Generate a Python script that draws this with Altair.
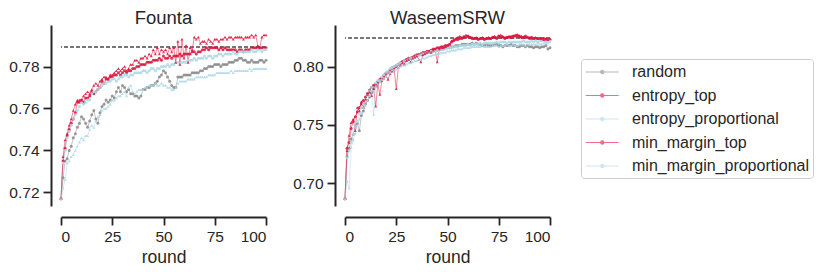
import altair as alt
import pandas as pd

rounds = list(range(101))
strategies = ["random", "entropy_top", "entropy_proportional", "min_margin_top", "min_margin_proportional"]
colors = ["#8a8a8a", "#dc143c", "#add8e6", "#dc143c", "#add8e6"]
circle_strategies = ["random", "entropy_top", "entropy_proportional"]
triangle_strategies = ["min_margin_top", "min_margin_proportional"]
datasets = ["Founta", "WaseemSRW"]
full_data = [0.7895, 0.8240]

# ---------------- Founta ----------------
founta_random = [
    0.717, 0.727, 0.735, 0.736, 0.740, 0.742, 0.746, 0.748, 0.751, 0.753,
    0.756, 0.755, 0.753, 0.751, 0.754, 0.757, 0.759, 0.755, 0.753, 0.758,
    0.761, 0.762, 0.764, 0.763, 0.764, 0.766, 0.765, 0.768, 0.770, 0.768,
    0.771, 0.770, 0.768, 0.769, 0.767, 0.767, 0.766, 0.766, 0.765, 0.766,
    0.769, 0.769, 0.770, 0.770, 0.771, 0.771, 0.772, 0.773, 0.775, 0.776,
    0.778, 0.777, 0.775, 0.773, 0.771, 0.770, 0.770, 0.775, 0.775, 0.775,
    0.776, 0.776, 0.776, 0.776, 0.777, 0.777, 0.777, 0.777, 0.778, 0.778,
    0.779, 0.779, 0.780, 0.780, 0.780, 0.781, 0.781, 0.781, 0.780, 0.781,
    0.781, 0.781, 0.782, 0.782, 0.782, 0.783, 0.783, 0.784, 0.784, 0.783,
    0.783, 0.782, 0.782, 0.783, 0.782, 0.782, 0.782, 0.783, 0.783, 0.782,
    0.783]
founta_entropy_top = [
    0.717, 0.735, 0.741, 0.747, 0.750, 0.753, 0.755, 0.758, 0.763, 0.763,
    0.764, 0.763, 0.765, 0.765, 0.766, 0.768, 0.767, 0.768, 0.769, 0.770,
    0.773, 0.772, 0.774, 0.774, 0.775, 0.775, 0.776, 0.776, 0.777, 0.776,
    0.777, 0.778, 0.777, 0.778, 0.778, 0.779, 0.779, 0.780, 0.780, 0.781,
    0.781, 0.781, 0.782, 0.782, 0.782, 0.783, 0.783, 0.783, 0.784, 0.783,
    0.785, 0.784, 0.784, 0.785, 0.784, 0.785, 0.785, 0.785, 0.786, 0.785,
    0.786, 0.786, 0.786, 0.786, 0.787, 0.787, 0.786, 0.787, 0.787, 0.788,
    0.788, 0.789, 0.788, 0.789, 0.789, 0.789, 0.789, 0.788, 0.789, 0.788,
    0.789, 0.788, 0.788, 0.788, 0.788, 0.788, 0.787, 0.788, 0.788, 0.787,
    0.788, 0.788, 0.788, 0.789, 0.789, 0.789, 0.789, 0.789, 0.789, 0.789,
    0.789]
founta_entropy_proportional = [
    0.717, 0.734, 0.740, 0.746, 0.749, 0.752, 0.755, 0.757, 0.759, 0.761,
    0.763, 0.762, 0.763, 0.764, 0.764, 0.767, 0.768, 0.768, 0.769, 0.770,
    0.771, 0.772, 0.772, 0.773, 0.773, 0.774, 0.774, 0.773, 0.774, 0.775,
    0.775, 0.776, 0.776, 0.775, 0.776, 0.776, 0.777, 0.777, 0.777, 0.777,
    0.778, 0.778, 0.777, 0.778, 0.779, 0.779, 0.778, 0.779, 0.779, 0.780,
    0.780, 0.780, 0.781, 0.780, 0.781, 0.781, 0.782, 0.782, 0.781, 0.782,
    0.782, 0.782, 0.783, 0.783, 0.783, 0.784, 0.783, 0.784, 0.784, 0.784,
    0.785, 0.784, 0.785, 0.785, 0.784, 0.785, 0.785, 0.786, 0.786, 0.785,
    0.786, 0.786, 0.786, 0.786, 0.787, 0.786, 0.786, 0.787, 0.787, 0.787,
    0.787, 0.787, 0.787, 0.788, 0.787, 0.787, 0.788, 0.788, 0.787, 0.788,
    0.788]
founta_min_margin_top = [
    0.717, 0.737, 0.745, 0.748, 0.752, 0.755, 0.759, 0.762, 0.764, 0.764,
    0.764, 0.766, 0.767, 0.768, 0.767, 0.769, 0.771, 0.772, 0.771, 0.773,
    0.774, 0.775, 0.775, 0.774, 0.776, 0.776, 0.777, 0.778, 0.779, 0.778,
    0.779, 0.780, 0.778, 0.779, 0.781, 0.781, 0.783, 0.783, 0.782, 0.784,
    0.784, 0.785, 0.784, 0.786, 0.785, 0.788, 0.786, 0.789, 0.786, 0.788,
    0.787, 0.788, 0.786, 0.789, 0.787, 0.789, 0.782, 0.792, 0.781, 0.793,
    0.784, 0.790, 0.782, 0.789, 0.788, 0.794, 0.793, 0.794, 0.791, 0.792,
    0.792, 0.791, 0.793, 0.792, 0.791, 0.793, 0.793, 0.792, 0.793, 0.793,
    0.794, 0.793, 0.794, 0.794, 0.793, 0.794, 0.794, 0.794, 0.794, 0.793,
    0.794, 0.794, 0.794, 0.795, 0.794, 0.795, 0.790, 0.789, 0.794, 0.795,
    0.795]
founta_min_margin_proportional = [
    0.717, 0.722, 0.726, 0.734, 0.735, 0.737, 0.738, 0.740, 0.742, 0.744,
    0.746, 0.745, 0.747, 0.747, 0.750, 0.752, 0.751, 0.754, 0.756, 0.757,
    0.759, 0.760, 0.760, 0.761, 0.762, 0.764, 0.764, 0.765, 0.766, 0.766,
    0.767, 0.768, 0.766, 0.770, 0.771, 0.768, 0.767, 0.768, 0.769, 0.769,
    0.769, 0.770, 0.770, 0.771, 0.771, 0.771, 0.772, 0.771, 0.771, 0.772,
    0.771, 0.771, 0.770, 0.770, 0.769, 0.769, 0.770, 0.772, 0.773, 0.773,
    0.773, 0.773, 0.774, 0.774, 0.774, 0.774, 0.775, 0.775, 0.775, 0.775,
    0.775, 0.775, 0.776, 0.776, 0.776, 0.776, 0.777, 0.777, 0.777, 0.777,
    0.777, 0.777, 0.777, 0.778, 0.777, 0.778, 0.778, 0.778, 0.778, 0.778,
    0.778, 0.778, 0.779, 0.778, 0.779, 0.779, 0.779, 0.779, 0.779, 0.779,
    0.779]

# ---------------- WaseemSRW ----------------
waseem_random = [
    0.687, 0.723, 0.730, 0.738, 0.742, 0.748, 0.751, 0.745, 0.758, 0.762,
    0.768, 0.771, 0.774, 0.778, 0.781, 0.783, 0.785, 0.787, 0.790, 0.792,
    0.794, 0.795, 0.797, 0.799, 0.800, 0.801, 0.802, 0.803, 0.804, 0.805,
    0.806, 0.806, 0.807, 0.808, 0.809, 0.809, 0.810, 0.810, 0.811, 0.811,
    0.812, 0.812, 0.813, 0.813, 0.814, 0.814, 0.815, 0.815, 0.815, 0.816,
    0.816, 0.816, 0.817, 0.817, 0.818, 0.818, 0.818, 0.819, 0.819, 0.819,
    0.819, 0.819, 0.820, 0.819, 0.820, 0.819, 0.819, 0.818, 0.818, 0.819,
    0.818, 0.818, 0.818, 0.819, 0.819, 0.818, 0.818, 0.817, 0.818, 0.818,
    0.818, 0.819, 0.818, 0.818, 0.817, 0.817, 0.818, 0.818, 0.817, 0.818,
    0.817, 0.817, 0.816, 0.817, 0.817, 0.816, 0.817, 0.817, 0.818, 0.815,
    0.816]
waseem_entropy_top = [
    0.687, 0.730, 0.735, 0.747, 0.753, 0.757, 0.761, 0.765, 0.768, 0.771,
    0.774, 0.777, 0.780, 0.782, 0.784, 0.785, 0.787, 0.789, 0.790, 0.792,
    0.794, 0.795, 0.797, 0.798, 0.799, 0.800, 0.802, 0.803, 0.804, 0.805,
    0.806, 0.807, 0.807, 0.808, 0.809, 0.810, 0.810, 0.811, 0.812, 0.812,
    0.813, 0.813, 0.814, 0.815, 0.815, 0.816, 0.816, 0.817, 0.817, 0.818,
    0.818, 0.819, 0.821, 0.822, 0.823, 0.823, 0.824, 0.824, 0.825, 0.825,
    0.826, 0.825, 0.824, 0.824, 0.824, 0.823, 0.824, 0.824, 0.823, 0.824,
    0.824, 0.824, 0.825, 0.825, 0.824, 0.826, 0.825, 0.825, 0.824, 0.825,
    0.825, 0.825, 0.826, 0.826, 0.827, 0.826, 0.825, 0.825, 0.826, 0.825,
    0.824, 0.825, 0.824, 0.824, 0.824, 0.824, 0.823, 0.824, 0.823, 0.823,
    0.823]
waseem_entropy_proportional = [
    0.687, 0.722, 0.728, 0.735, 0.742, 0.748, 0.753, 0.760, 0.765, 0.768,
    0.772, 0.775, 0.779, 0.782, 0.780, 0.786, 0.788, 0.788, 0.791, 0.793,
    0.795, 0.796, 0.798, 0.799, 0.800, 0.801, 0.802, 0.803, 0.803, 0.805,
    0.805, 0.806, 0.807, 0.807, 0.808, 0.809, 0.809, 0.810, 0.811, 0.811,
    0.812, 0.812, 0.813, 0.813, 0.813, 0.814, 0.814, 0.815, 0.815, 0.815,
    0.816, 0.816, 0.816, 0.817, 0.817, 0.817, 0.818, 0.818, 0.818, 0.818,
    0.819, 0.818, 0.819, 0.819, 0.819, 0.819, 0.820, 0.819, 0.820, 0.820,
    0.820, 0.820, 0.820, 0.820, 0.821, 0.820, 0.821, 0.821, 0.821, 0.820,
    0.821, 0.821, 0.821, 0.821, 0.821, 0.821, 0.821, 0.822, 0.821, 0.821,
    0.821, 0.822, 0.821, 0.822, 0.821, 0.822, 0.822, 0.822, 0.821, 0.822,
    0.822]
waseem_min_margin_top = [
    0.687, 0.728, 0.741, 0.752, 0.755, 0.745, 0.765, 0.762, 0.770, 0.765,
    0.772, 0.776, 0.778, 0.775, 0.781, 0.766, 0.785, 0.776, 0.788, 0.790,
    0.792, 0.789, 0.794, 0.796, 0.797, 0.781, 0.799, 0.801, 0.803, 0.802,
    0.805, 0.806, 0.804, 0.807, 0.808, 0.809, 0.806, 0.804, 0.810, 0.811,
    0.812, 0.813, 0.812, 0.814, 0.815, 0.804, 0.815, 0.816, 0.816, 0.817,
    0.818, 0.819, 0.822, 0.823, 0.824, 0.825, 0.826, 0.825, 0.826, 0.827,
    0.826, 0.825, 0.825, 0.824, 0.825, 0.824, 0.824, 0.825, 0.824, 0.824,
    0.825, 0.824, 0.825, 0.826, 0.825, 0.826, 0.827, 0.826, 0.825, 0.825,
    0.826, 0.826, 0.825, 0.827, 0.826, 0.826, 0.826, 0.825, 0.825, 0.825,
    0.825, 0.824, 0.824, 0.825, 0.824, 0.824, 0.824, 0.823, 0.824, 0.823,
    0.824]
waseem_min_margin_proportional = [
    0.687, 0.702, 0.696, 0.731, 0.737, 0.743, 0.750, 0.755, 0.760, 0.765,
    0.767, 0.771, 0.775, 0.779, 0.759, 0.783, 0.785, 0.787, 0.789, 0.790,
    0.792, 0.794, 0.795, 0.797, 0.797, 0.798, 0.799, 0.800, 0.801, 0.801,
    0.802, 0.803, 0.803, 0.804, 0.805, 0.805, 0.806, 0.806, 0.807, 0.807,
    0.808, 0.809, 0.809, 0.810, 0.810, 0.811, 0.811, 0.812, 0.812, 0.812,
    0.813, 0.813, 0.814, 0.814, 0.814, 0.815, 0.815, 0.815, 0.816, 0.816,
    0.816, 0.816, 0.817, 0.817, 0.817, 0.817, 0.817, 0.818, 0.817, 0.817,
    0.817, 0.817, 0.818, 0.818, 0.818, 0.817, 0.818, 0.818, 0.818, 0.819,
    0.818, 0.818, 0.819, 0.818, 0.818, 0.819, 0.819, 0.819, 0.818, 0.819,
    0.819, 0.819, 0.819, 0.819, 0.820, 0.819, 0.819, 0.820, 0.820, 0.820,
    0.821]

series = {
    "Founta": [founta_random, founta_entropy_top, founta_entropy_proportional,
               founta_min_margin_top, founta_min_margin_proportional],
    "WaseemSRW": [waseem_random, waseem_entropy_top, waseem_entropy_proportional,
                  waseem_min_margin_top, waseem_min_margin_proportional],
}

rows = []
for ds in datasets:
    for strat, vals in zip(strategies, series[ds]):
        for r, v in zip(rounds, vals):
            rows.append({"dataset": ds, "strategy": strat, "round": r, "value": v})
df = pd.DataFrame(rows)

FONT = "Liberation Sans"
INK = "#262626"

legend_path = "M-1,0H3M0.8,0A0.2,0.2,0,1,0,1.2,0A0.2,0.2,0,1,0,0.8,0Z"
legend = alt.Legend(
    title=None, orient="none", legendX=520, legendY=34,
    symbolType=legend_path, symbolSize=272, symbolStrokeWidth=1.2,
    symbolOpacity=0.6, labelOffset=29, labelFontSize=16, labelFont=FONT,
    labelColor=INK, padding=4, rowPadding=6.5, strokeColor="#cccccc",
    cornerRadius=3, fillColor="white", labelLimit=400,
)

y_domains = {"Founta": [0.7135, 0.7998], "WaseemSRW": [0.6807, 0.8355]}
y_ticks = {"Founta": [0.72, 0.74, 0.76, 0.78], "WaseemSRW": [0.70, 0.75, 0.80]}


def panel(ds, full):
    d = df[df["dataset"] == ds]
    x = alt.X("round:Q", scale=alt.Scale(domain=[0, 100], nice=False),
              axis=alt.Axis(values=[0, 25, 50, 75, 100], title="round", offset=11))
    y = alt.Y("value:Q", scale=alt.Scale(domain=y_domains[ds], nice=False, zero=False),
              axis=alt.Axis(values=y_ticks[ds], format=".2f", title=None, offset=10))
    color = alt.Color("strategy:N", scale=alt.Scale(domain=strategies, range=colors),
                      legend=legend)
    base = alt.Chart(d)
    lines = base.mark_line(strokeWidth=1, opacity=0.5).encode(x=x, y=y, color=color)
    circles = base.transform_filter(
        alt.FieldOneOfPredicate(field="strategy", oneOf=circle_strategies)
    ).mark_point(filled=True, size=9, opacity=0.85, shape="circle").encode(
        x=x, y=y, color=color)
    triangles = base.transform_filter(
        alt.FieldOneOfPredicate(field="strategy", oneOf=triangle_strategies)
    ).mark_point(filled=True, size=9, opacity=0.85, shape="triangle-up").encode(
        x=x, y=y, color=color)
    rule = base.mark_rule(strokeDash=[4, 2], color="#777777", strokeWidth=1).encode(
        y=alt.datum(full)
    )
    return alt.layer(rule, lines, circles, triangles).properties(
        width=205, height=181,
        title=alt.TitleParams(ds, fontSize=18.5, font=FONT, fontWeight="normal",
                              color=INK, offset=-2),
    )


chart = alt.hconcat(
    panel("Founta", full_data[0]), panel("WaseemSRW", full_data[1]), spacing=24
).properties(padding={"left": 0, "top": 0, "right": 0, "bottom": 0}).configure_view(
    stroke=None
).configure_axis(
    grid=False, domainColor=INK, domainWidth=2, tickColor=INK, tickWidth=1.8,
    tickSize=8, labelFontSize=15.5, titleFontSize=17.5, labelFont=FONT, titleFont=FONT,
    labelColor=INK, titleColor=INK, titleFontWeight="normal",
    labelPadding=4, titlePadding=4,
)

chart.save("out.html", embed_options={"renderer": "svg", "actions": False})
